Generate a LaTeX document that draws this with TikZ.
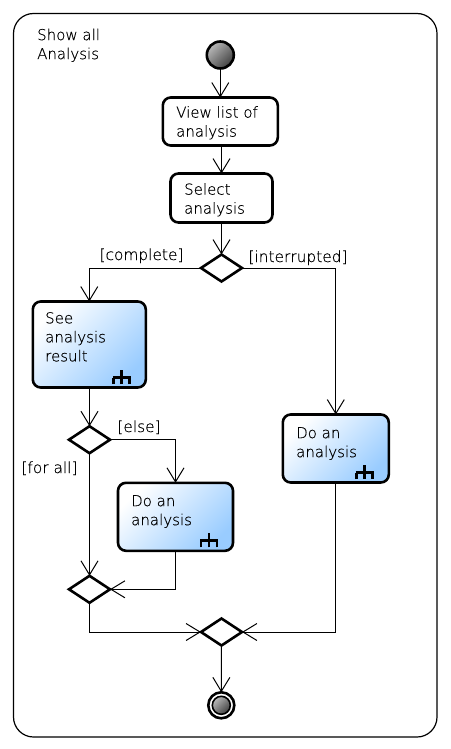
\documentclass[tikz,border=0pt]{standalone}
\usepackage{fontspec}
\setmainfont{DejaVu Sans ExtraLight}[FakeBold=0.35]
\usetikzlibrary{positioning,arrows.meta,shapes.geometric}
\definecolor{actblue}{HTML}{99CCFF}
\tikzset {
    action/.style={
        draw=black,
        line width=2.6pt,
        rectangle, % plain step
        rounded corners=8pt,
        fill=white,
        align=left,
        anchor=north west,
        inner sep=0pt,
        outer sep=0pt,
    },
    subaction/.style={
        action,
        top color=white,
        bottom color=actblue,
        shading angle=45,
    },
    decision/.style={
        draw=black,
        line width=2.6pt,
        diamond,
        fill=white,
        inner sep=0pt,
        outer sep=0pt,
        minimum width=41pt,
        minimum height=27pt,
    },
    startdot/.style={
        draw=black,
        line width=2.6pt,
        circle,
        inner sep=0pt,
        outer sep=0pt,
        minimum size=27pt,
        top color=gray!55,
        bottom color=black!75,
        shading angle=45,
    },
    flow/.style={
        draw=black,
        line width=1pt,
        -{Straight Barb[length=14pt,width=17pt,line width=1pt]},
    },
    steptext/.style={
        font=\fontsize{15pt}{19pt}\selectfont,
        align=left,
        anchor=north west,
        inner sep=0pt,
    },
    guard/.style={
        font=\fontsize{15.4pt}{19pt}\selectfont,
        anchor=base,
        inner sep=0pt,
    },
}
% sub-activity mark in the lower right corner of a step
\newcommand{\rakemark}[1]{
    \draw[line width=2.8pt] ([shift={(-33,-10)}]#1.south east) -- ([shift={(-15,-10)}]#1.south east);
    \draw[line width=2.8pt] ([shift={(-32,-3.5)}]#1.south east) -- ([shift={(-32,-10)}]#1.south east);
    \draw[line width=2.8pt] ([shift={(-24,-3.5)}]#1.south east) -- ([shift={(-24,-17.5)}]#1.south east);
    \draw[line width=2.8pt] ([shift={(-16,-3.5)}]#1.south east) -- ([shift={(-16,-10)}]#1.south east);
}
\begin{document}
\begin{tikzpicture}[x=1pt,y=-1pt]
    \useasboundingbox (0,0) rectangle (450,749);

    \node[draw=black, line width=1.2pt, rounded corners=20pt, minimum width=423.5pt, minimum height=723.5pt, inner sep=0pt, outer sep=0pt, anchor=north west] (frame) at (13.5,13.5) {};
    \node[steptext] (title) at (37,28.5) {Show all\\Analysis};

    \node[startdot] (start) at (220.3,55) {};

    \node[action, minimum width=115pt, minimum height=48pt] (view) at (162.8,97.5) {};
    \node[steptext] (viewtext) at (176,106) {View list of\\analysis};
    \node[action, minimum width=102pt, minimum height=49pt] (select) at (170.5,173.5) {};
    \node[steptext] (selecttext) at (184,183) {Select\\analysis};

    \node[decision] (dec one) at (221.5,268) {};
    \node[guard] (complete) at (141.5,260) {[complete]};
    \node[guard] (interrupted) at (298,262) {[interrupted]};

    \node[subaction, minimum width=113pt, minimum height=86pt] (see) at (32.8,301.5) {};
    \node[steptext] (seetext) at (45,312) {See\\analysis\\result};
    \rakemark{see}

    \node[decision] (dec two) at (89.5,439.7) {};
    \node[guard] (else) at (139,432) {[else]};
    \node[guard] (forall) at (49.5,473) {[for all]};

    \node[subaction, minimum width=115pt, minimum height=68pt] (do two) at (118,482.8) {};
    \node[steptext] (dotwotext) at (131,495) {Do an\\analysis};
    \rakemark{do two}

    \node[subaction, minimum width=106pt, minimum height=68pt] (do one) at (282.8,414.5) {};
    \node[steptext] (doonetext) at (296,427) {Do an\\analysis};
    \rakemark{do one}

    \node[decision] (dec three) at (89.5,589.3) {};
    \node[decision] (dec four) at (221.5,632) {};

    \node[circle, draw=black, line width=2.6pt, inner sep=0pt, outer sep=0pt, minimum size=26pt, fill=white] (end) at (221.3,705.3) {};
    \node[startdot, minimum size=18pt, line width=1.6pt] (enddot) at (end.center) {};

    \draw[flow] (start) -- (view.north -| start);
    \draw[flow] (view.south -| select) -- (select);
    \draw[flow] (select.south -| dec one) -- (dec one.north);
    \draw[flow] (dec one.west) -| (see.north);
    \draw[flow] (dec one.east) -| (do one.north);
    \draw[flow] (see.south -| dec two) -- (dec two.north);
    \draw[flow] (dec two.east) -| (do two.north);
    \draw[flow] (dec two.south) -- (dec three.north);
    \draw[flow] (do two.south) |- (dec three.east);
    \draw[flow] (dec three.south) |- (dec four.west);
    \draw[flow] (do one.south) |- (dec four.east);
    \draw[flow] (dec four.south) -- (end.north);
\end{tikzpicture}
\end{document}
